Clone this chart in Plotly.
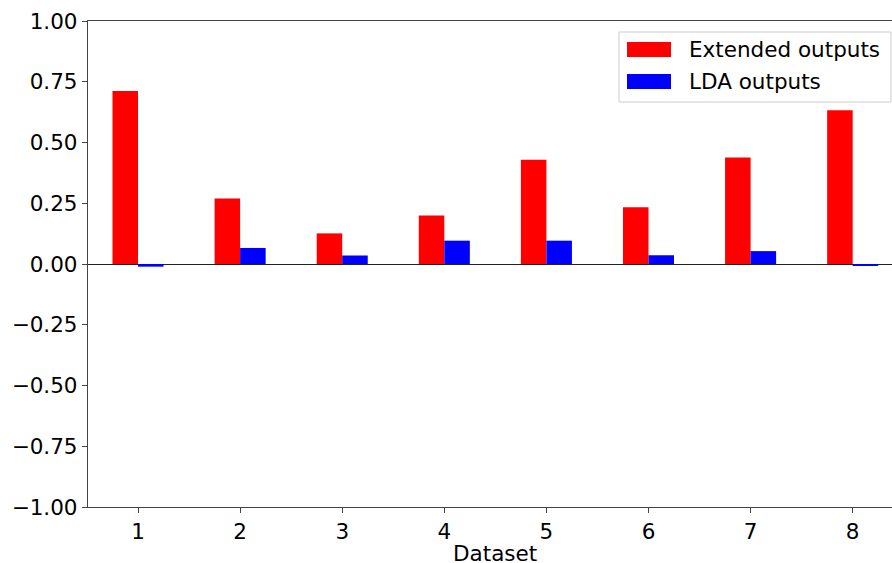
import plotly.graph_objects as go

datasets = [1, 2, 3, 4, 5, 6, 7, 8]
extended_outputs = [0.712, 0.270, 0.126, 0.200, 0.429, 0.234, 0.438, 0.633]
lda_outputs = [-0.011, 0.066, 0.035, 0.096, 0.096, 0.036, 0.053, -0.006]
series_names = ["Extended outputs", "LDA outputs"]
x_title = "Dataset"
y_ticks = [-1.0, -0.75, -0.5, -0.25, 0.0, 0.25, 0.5, 0.75, 1.0]
y_tick_labels = ["\u22121.00", "\u22120.75", "\u22120.50", "\u22120.25", "0.00", "0.25", "0.50", "0.75", "1.00"]

FONT = "DejaVu Sans"
FS = 21.5
fig = go.Figure()
fig.add_trace(go.Bar(x=datasets, y=extended_outputs, name=series_names[0],
                     marker=dict(color="#ff0000", line=dict(width=0))))
fig.add_trace(go.Bar(x=datasets, y=lda_outputs, name=series_names[1],
                     marker=dict(color="#0000ff", line=dict(width=0))))

W, H = 892, 563
L, R, T, B = 88, 0, 21, 56
pw, ph = W - L - R, H - T - B

def px(x):
    return (x - L) / pw

def py(y):
    return (H - B - y) / ph

shapes = [
    dict(type="rect", xref="paper", yref="paper", x0=px(619), x1=px(891), y0=py(102), y1=py(32),
         line=dict(color="#cccccc", width=1), fillcolor="rgba(255,255,255,0.85)", layer="above"),
    dict(type="rect", xref="paper", yref="paper", x0=px(627), x1=px(671), y0=py(57), y1=py(42),
         line=dict(width=0), fillcolor="#ff0000", layer="above"),
    dict(type="rect", xref="paper", yref="paper", x0=px(627), x1=px(671), y0=py(89), y1=py(74),
         line=dict(width=0), fillcolor="#0000ff", layer="above"),
]
annotations = [
    dict(xref="paper", yref="paper", x=px(687), y=py(49.5), text=series_names[0], showarrow=False,
         xanchor="left", yanchor="middle", font=dict(family=FONT, size=FS, color="#000")),
    dict(xref="paper", yref="paper", x=px(687), y=py(81.5), text=series_names[1], showarrow=False,
         xanchor="left", yanchor="middle", font=dict(family=FONT, size=FS, color="#000")),
    dict(xref="paper", yref="paper", x=px(495), y=py(553), text=x_title, showarrow=False,
         xanchor="center", yanchor="middle", font=dict(family=FONT, size=FS, color="#000")),
]

fig.update_layout(
    width=W, height=H,
    margin=dict(l=L, r=R, t=T, b=B, pad=0),
    paper_bgcolor="white", plot_bgcolor="white",
    barmode="group", bargap=0.5, bargroupgap=0,
    showlegend=False,
    font=dict(family=FONT, size=FS, color="#000"),
    shapes=shapes, annotations=annotations,
)
fig.update_xaxes(range=[0.51, 8.385], tickvals=datasets, ticks="outside", ticklen=5,
                 tickcolor="#444", showline=True, linecolor="#444", linewidth=1.3, mirror=True,
                 showgrid=False, zeroline=False, tickfont=dict(size=FS))
fig.update_yaxes(range=[-1, 1], tickvals=y_ticks, ticktext=y_tick_labels, ticks="outside",
                 ticklen=5, tickcolor="#444", showline=True, linecolor="#444", linewidth=1.3,
                 showgrid=False, zeroline=True, zerolinecolor="#222", zerolinewidth=1.2,
                 tickfont=dict(size=FS))

fig.write_html("out.html")
